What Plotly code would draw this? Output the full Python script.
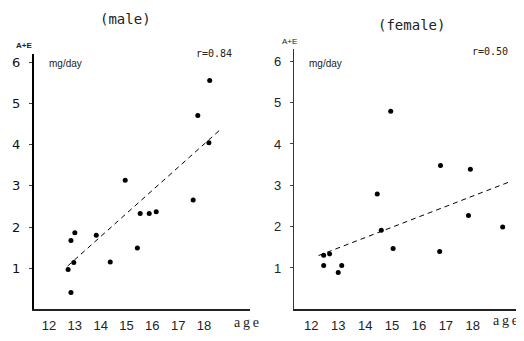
import plotly.graph_objects as go

OFF = 8  # browser body margin offset
W, H = 524 - OFF, 341 - 2 * OFF

# ---- data ----
male_age = [12.74, 12.85, 12.85, 13.0, 12.96, 13.83, 14.37, 14.95, 15.42, 15.53, 15.88, 16.15, 17.58, 17.76, 18.22, 18.19]
male_val = [0.97, 0.41, 1.67, 1.86, 1.14, 1.80, 1.15, 3.14, 1.49, 2.33, 2.33, 2.37, 2.66, 4.71, 5.56, 4.05]
male_trend_age = [12.72, 18.58]
male_trend_val = [1.05, 4.34]

female_age = [12.46, 12.68, 12.46, 13.0, 13.13, 14.45, 14.6, 15.04, 16.77, 17.84, 17.91, 19.11, 14.95, 16.8]
female_val = [1.31, 1.34, 1.06, 0.89, 1.06, 2.79, 1.91, 1.47, 1.40, 2.27, 3.39, 1.99, 4.79, 3.48]
female_trend_age = [12.27, 19.43]
female_trend_val = [1.30, 3.10]

x_ticks = [12, 13, 14, 15, 16, 17, 18]
y_ticks = [1, 2, 3, 4, 5, 6]
titles = ["(male)", "(female)"]
r_labels = ["r=0.84", "r=0.50"]

fig = go.Figure()

def px(x):
    return (x - OFF) / W

def py(y):
    return 1 - (y - OFF) / H

fig.add_trace(go.Scatter(x=male_age, y=male_val, mode="markers",
                         marker=dict(color="black", size=5), xaxis="x", yaxis="y", showlegend=False))
fig.add_trace(go.Scatter(x=male_trend_age, y=male_trend_val, mode="lines",
                         line=dict(color="black", width=1, dash="5px,4px"), xaxis="x", yaxis="y", showlegend=False))
fig.add_trace(go.Scatter(x=female_age, y=female_val, mode="markers",
                         marker=dict(color="black", size=5), xaxis="x2", yaxis="y2", showlegend=False))
fig.add_trace(go.Scatter(x=female_trend_age, y=female_trend_val, mode="lines",
                         line=dict(color="black", width=1, dash="5px,4px"), xaxis="x2", yaxis="y2", showlegend=False))

xcommon = dict(showgrid=False, zeroline=False, showline=True, linecolor="#222", linewidth=1.5,
               tickvals=x_ticks, ticks="", tickfont=dict(family="Liberation Sans, Arial", size=13, color="#222"),
               ticklabelstandoff=3)
ycommon = dict(showgrid=False, zeroline=False, showline=True, tickvals=y_ticks, ticks="outside",
               ticklen=3, tickcolor="#444", tickwidth=1, ticklabelstandoff=6)

fig.update_layout(
    width=W, height=H, margin=dict(l=0, r=0, t=0, b=0),
    paper_bgcolor="white", plot_bgcolor="white",
    xaxis=dict(domain=[px(34), px(250)], range=[11.42, 19.78], anchor="y", **xcommon),
    yaxis=dict(domain=[py(314), py(55)], range=[0, 6.2], anchor="x", linecolor="black", linewidth=2,
               tickfont=dict(family="DejaVu Sans, Arial", size=13, color="#111"), **ycommon),
    xaxis2=dict(domain=[px(294), px(518)], range=[11.357, 19.68], anchor="y2", **xcommon),
    yaxis2=dict(domain=[py(314), py(50)], range=[0, 6.29], anchor="x2", linecolor="#333", linewidth=1.3,
                tickfont=dict(family="Liberation Sans, Arial", size=13, color="#222"), **ycommon),
)

ann = []
mono = "DejaVu Sans Mono, Liberation Mono, monospace"
ann.append(dict(x=px(125), y=py(19), text=titles[0], font=dict(family=mono, size=14, color="#222")))
ann.append(dict(x=px(411), y=py(25), text=titles[1], font=dict(family=mono, size=14, color="#222")))
ann.append(dict(x=px(214), y=py(54), text=r_labels[0], font=dict(family=mono, size=10, color="#222")))
ann.append(dict(x=px(490), y=py(52), text=r_labels[1], font=dict(family=mono, size=10, color="#222")))
ann.append(dict(x=px(24), y=py(46), text="<b>A+E</b>", font=dict(family="Liberation Sans, Arial", size=8, color="#222")))
ann.append(dict(x=px(289), y=py(42), text="A+E", font=dict(family="Liberation Sans, Arial", size=8, color="#222")))
ann.append(dict(x=px(65), y=py(64), text="mg/day", font=dict(family="Liberation Sans, Arial", size=10, color="#222")))
ann.append(dict(x=px(325), y=py(64), text="mg/day", font=dict(family="Liberation Sans, Arial", size=10, color="#222")))
age_txt = "a\u2009g\u2009e"
ann.append(dict(x=px(246), y=py(327), text=age_txt, font=dict(family="Liberation Serif, serif", size=14, color="#222")))
ann.append(dict(x=px(505), y=py(325), text=age_txt, font=dict(family="Liberation Serif, serif", size=14, color="#222")))
for a in ann:
    a.update(xref="paper", yref="paper", showarrow=False, xanchor="center", yanchor="middle")
fig.update_layout(annotations=ann)

fig.write_html("out.html")
